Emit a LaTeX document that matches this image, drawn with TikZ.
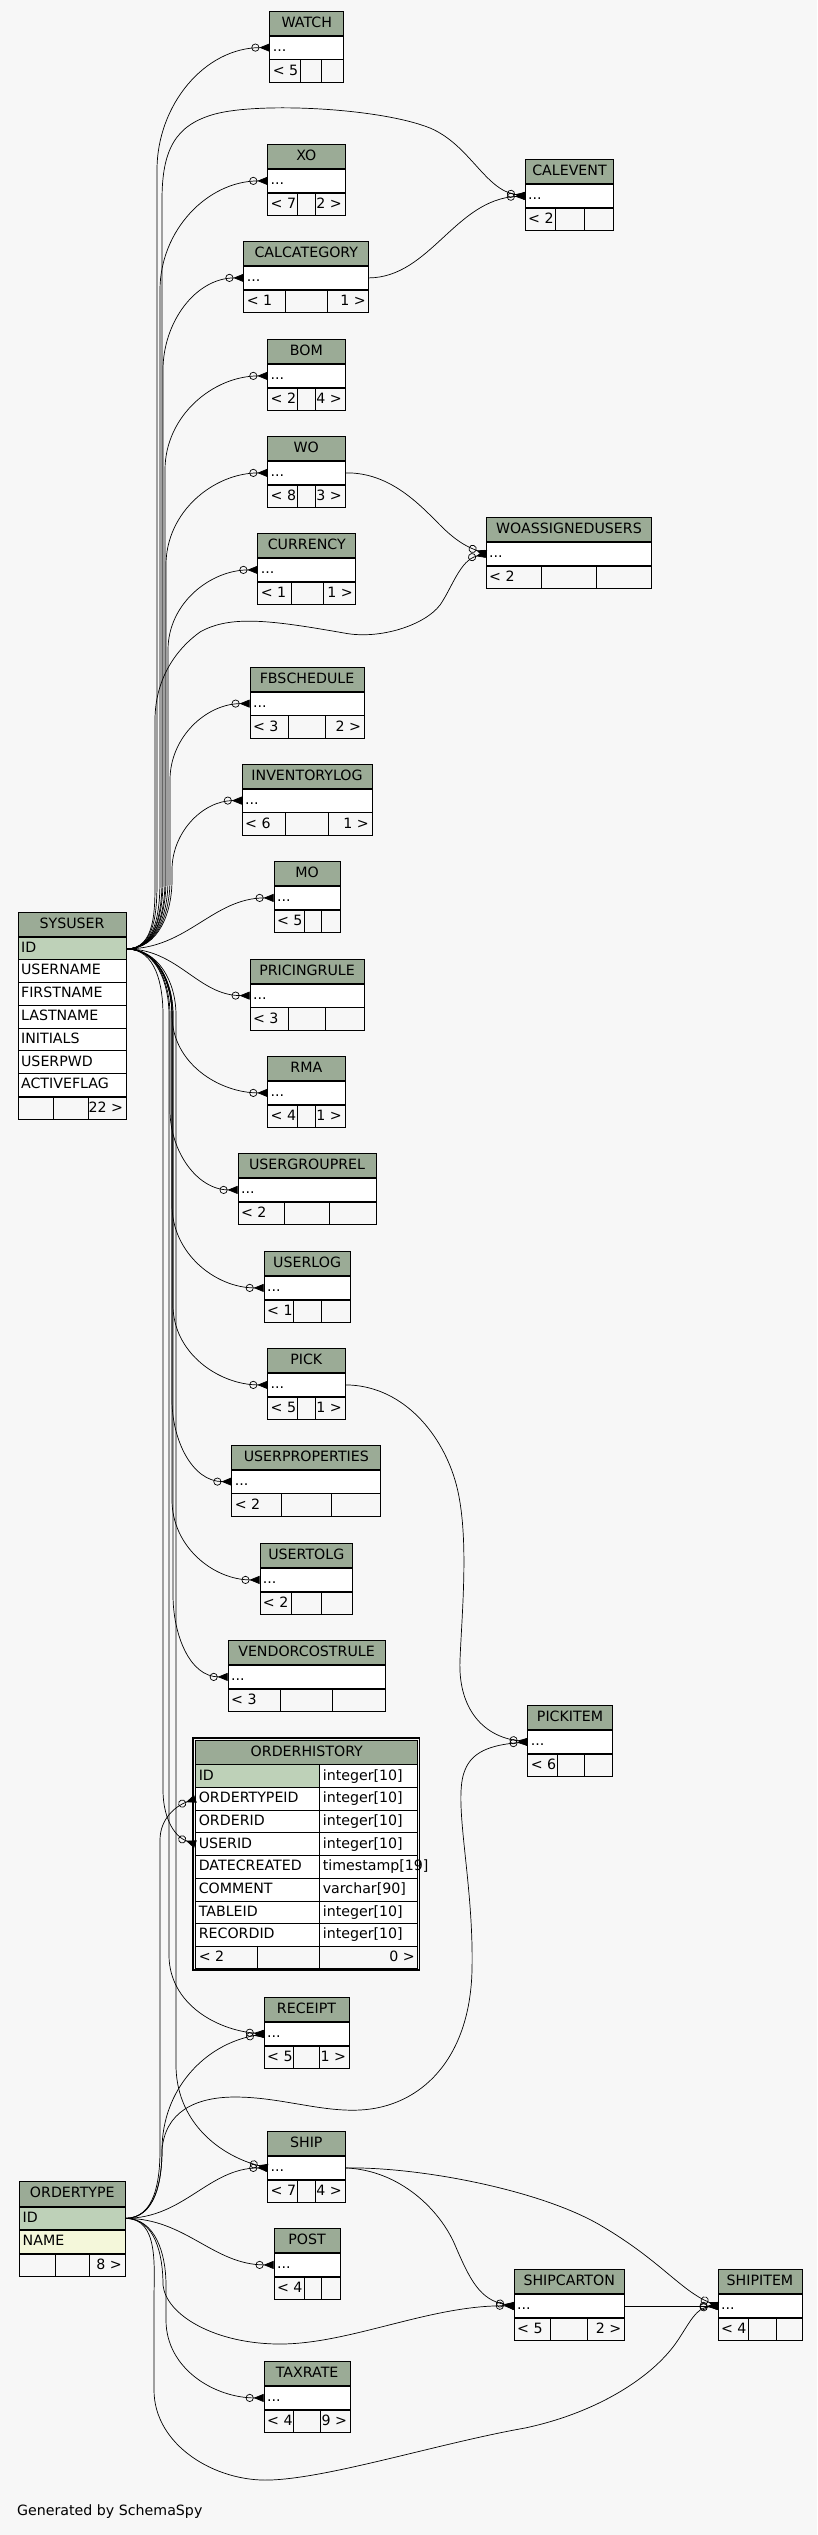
\documentclass[tikz,border=0pt]{standalone}
\usepackage{fontspec}
\setmainfont{DejaVu Sans}
\usetikzlibrary{arrows.meta}
\definecolor{bggray}{HTML}{F7F7F7}
\definecolor{headgreen}{HTML}{9BAB96}
\definecolor{keygreen}{HTML}{BED1B8}
\definecolor{idxyellow}{HTML}{F4F7DA}
\tikzset{
  tblhead/.style = {draw, fill=headgreen, inner sep=0pt, minimum height=24pt,
    text height=10.5pt, text depth=2.5pt, anchor=north west},
  tblcell/.style = {draw, fill=white, inner sep=0pt, minimum height=22.8pt,
    anchor=north west},
  tblfoot/.style = {draw, fill=bggray, inner sep=0pt, minimum height=22.5pt,
    anchor=north west},
  celltext/.style = {anchor=west, inner sep=3pt, text height=10.5pt,
    text depth=2.5pt},
  fk/.style = {line width=0.7pt,
    -{Circle[open,length=8pt,width=8pt] Triangle[reversed,length=10pt,width=8pt]}}% zero or many
}

% collapsed table: name, title, x, top, width, divider, divider, parents, children
\newcommand{\smalltable}[9]{%
  \node[tblhead, minimum width=#5pt] (#1-h) at (#3,-#4) {#2};
  \node[tblcell, minimum width=#5pt] (#1) at (#1-h.south west) {};
  \node[celltext] at (#1.west) {...};
  \node[tblfoot, minimum width=#5pt] (#1-f) at (#1.south west) {};
  \draw (#6,0 |- #1-f.north) -- (#6,0 |- #1-f.south);
  \draw (#7,0 |- #1-f.north) -- (#7,0 |- #1-f.south);
  \node[celltext] at (#1-f.west) {#8};
  \node[celltext, anchor=east] at (#1-f.east) {#9};
}

\begin{document}
\begin{tikzpicture}[x=1pt, y=1pt, line width=0.8pt,
    font=\fontsize{14.2pt}{17pt}\selectfont]
  \fill[bggray] (0,0) rectangle (817,-2535);
  \useasboundingbox (0,0) rectangle (817,-2535);

  % SYSUSER
  \node[tblhead, minimum width=108pt] (sysuser-h) at (17.7,-912.3) {SYSUSER};
  \node[tblcell, fill=keygreen, minimum width=108pt] (sysuser-id) at (sysuser-h.south west) {};
  \node[celltext] at (sysuser-id.west) {ID};
  \foreach \c [count=\i] in {USERNAME,FIRSTNAME,LASTNAME,INITIALS,USERPWD,ACTIVEFLAG} {
    \node[tblcell, minimum width=108pt] (sysuser-\i) at (17.7,{-936.3-22.8*\i}) {};
    \node[celltext] at (sysuser-\i.west) {\c};
  }
  \node[tblfoot, minimum width=108pt] (sysuser-f) at (sysuser-6.south west) {};
  \draw (53.2,0 |- sysuser-f.north) -- (53.2,0 |- sysuser-f.south);
  \draw (88.6,0 |- sysuser-f.north) -- (88.6,0 |- sysuser-f.south);
  \node[celltext, anchor=east] at (sysuser-f.east) {22 >};

  % ORDERTYPE
  \node[tblhead, minimum width=105.2pt, minimum height=24.7pt] (ordertype-h) at (19.3,-2181) {ORDERTYPE};
  \node[tblcell, fill=keygreen, minimum width=105.2pt] (ordertype-id) at (ordertype-h.south west) {};
  \node[celltext] at (ordertype-id.west) {ID};
  \node[tblcell, fill=idxyellow, minimum width=105.2pt] (ordertype-name) at (ordertype-id.south west) {};
  \node[celltext] at (ordertype-name.west) {NAME};
  \node[tblfoot, minimum width=105.2pt] (ordertype-f) at (ordertype-name.south west) {};
  \draw (55.2,0 |- ordertype-f.north) -- (55.2,0 |- ordertype-f.south);
  \draw (89.6,0 |- ordertype-f.north) -- (89.6,0 |- ordertype-f.south);
  \node[celltext, anchor=east] at (ordertype-f.east) {8 >};

  % ORDERHISTORY (focus table)
  \node[tblhead, minimum width=222pt, minimum height=24.3pt] (ohist-h) at (195.4,-1740) {ORDERHISTORY};
  \foreach \c/\f/\t [count=\i from 0] in {ID/keygreen/integer[10], ORDERTYPEID/white/integer[10],
      ORDERID/white/integer[10], USERID/white/integer[10], DATECREATED/white/timestamp[19],
      COMMENT/white/varchar[90], TABLEID/white/integer[10], RECORDID/white/integer[10]} {
    \node[tblcell, fill=\f, minimum width=124pt, minimum height=22.7pt] (ohist-\i) at (195.4,{-1764.3-22.7*\i}) {};
    \node[celltext] at (ohist-\i.west) {\c};
    \node[tblcell, minimum width=98pt, minimum height=22.7pt] (ohist-\i t) at (319.4,{-1764.3-22.7*\i}) {};
    \node[celltext] at (ohist-\i t.west) {\t};
  }
  \node[tblfoot, minimum width=222pt] (ohist-f) at (195.4,{-1764.3-22.7*8}) {};
  \draw (257.4,0 |- ohist-f.north) -- (257.4,0 |- ohist-f.south);
  \draw (319.4,0 |- ohist-f.north) -- (319.4,0 |- ohist-f.south);
  \node[celltext] at (ohist-f.west) {< 2};
  \node[celltext, anchor=east] at (ohist-f.east) {0 >};
  \draw[line width=1.6pt] (193.1,-1737.8) rectangle (419.4,-1970.2);

  % collapsed tables
  \smalltable{watch}{WATCH}{269.4}{11}{74}{300.7}{321.5}{< 5}{}
  \smalltable{xo}{XO}{267.3}{144.3}{77.2}{297.6}{315.3}{< 7}{2 >}
  \smalltable{calevent}{CALEVENT}{524.8}{159.3}{88.6}{555.5}{584.7}{< 2}{}
  \smalltable{calcategory}{CALCATEGORY}{243.4}{241.3}{125}{285.6}{327.8}{< 1}{1 >}
  \smalltable{bom}{BOM}{267.3}{339.3}{77.2}{297.6}{315.3}{< 2}{4 >}
  \smalltable{wo}{WO}{267.3}{436.3}{77.2}{297.6}{315.3}{< 8}{3 >}
  \smalltable{woassignedusers}{WOASSIGNEDUSERS}{485.7}{517.3}{165.7}{541.4}{596.7}{< 2}{}
  \smalltable{currency}{CURRENCY}{257.4}{533.3}{98}{291.3}{323.6}{< 1}{1 >}
  \smalltable{fbschedule}{FBSCHEDULE}{249.6}{667}{114.1}{288.7}{325.7}{< 3}{2 >}
  \smalltable{inventorylog}{INVENTORYLOG}{241.8}{764}{129.7}{285.6}{328.8}{< 6}{1 >}
  \smalltable{mo}{MO}{273.6}{861.3}{66.2}{304.3}{321.5}{< 5}{}
  \smalltable{pricingrule}{PRICINGRULE}{249.6}{959}{114.1}{288.7}{325.7}{< 3}{}
  \smalltable{rma}{RMA}{267.3}{1056.3}{77.2}{297.6}{315.3}{< 4}{1 >}
  \smalltable{usergrouprel}{USERGROUPREL}{237.6}{1153.3}{138.1}{284.5}{329.3}{< 2}{}
  \smalltable{userlog}{USERLOG}{263.7}{1251.3}{86}{293.4}{321.5}{< 1}{}
  \smalltable{pick}{PICK}{267.3}{1348.3}{77.2}{297.6}{315.3}{< 5}{1 >}
  \smalltable{userproperties}{USERPROPERTIES}{231.4}{1445}{149}{281.4}{331.4}{< 2}{}
  \smalltable{usertolg}{USERTOLG}{259.5}{1543.3}{92.8}{291.3}{321.5}{< 2}{}
  \smalltable{vendorcostrule}{VENDORCOSTRULE}{227.7}{1640.3}{156.9}{280.4}{332.5}{< 3}{}
  \smalltable{pickitem}{PICKITEM}{527.4}{1705.3}{84.4}{557.6}{584.7}{< 6}{}
  \smalltable{receipt}{RECEIPT}{263.7}{1997.3}{84.9}{293.4}{319.4}{< 5}{1 >}
  \smalltable{ship}{SHIP}{267.3}{2131.3}{77.2}{297.6}{315.3}{< 7}{4 >}
  \smalltable{post}{POST}{273.6}{2228.3}{66.2}{304.3}{321.5}{< 4}{}
  \smalltable{shipcarton}{SHIPCARTON}{513.8}{2269.3}{110}{550.8}{587.8}{< 5}{2 >}
  \smalltable{shipitem}{SHIPITEM}{717.6}{2269.3}{83.9}{748.8}{775.9}{< 4}{}
  \smalltable{taxrate}{TAXRATE}{263.7}{2361.3}{86}{293.4}{320.5}{< 4}{9 >}

  % SYSUSER.ID -> children above
  \foreach \dst/\cx/\py in {watch/157/170, xo/160/290, calcategory/163/370, bom/165/470,
      wo/166/565, currency/168/650, fbschedule/170/780, inventorylog/172/870}
    \draw[fk] (sysuser-id.east) to[out=0,in=-90] (\cx,-880) -- (\cx,-\py)
      to[out=90,in=180] (\dst.west);
  % SYSUSER.ID -> children below
  \foreach \dst/\cx/\py in {rma/172/1015, usergrouprel/170/1110, userlog/172/1205,
      pick/173/1305, userproperties/172/1400, usertolg/172/1500, vendorcostrule/173/1595}
    \draw[fk] (sysuser-id.east) to[out=0,in=90] (\cx,-1015) -- (\cx,-\py)
      to[out=-90,in=180] (\dst.west);
  \draw[fk] (sysuser-id.east) to[out=0,in=180] (mo.west);
  \draw[fk] (sysuser-id.east) to[out=0,in=180] (pricingrule.west);
  \draw[fk] (sysuser-id.east) to[out=0,in=90] (163,-1015) -- (163,-1790)
    to[out=-90,in=160] (ohist-3.west);
  \draw[fk] (sysuser-id.east) to[out=0,in=90] (169,-1015) -- (169,-1955)
    to[out=-90,in=175] (receipt.west);
  \draw[fk] (sysuser-id.east) to[out=0,in=90] (176,-1015) -- (176,-2065)
    to[out=-90,in=165] (ship.west);
  \draw[fk] (sysuser-id.east) to[out=0,in=-90] (162,-880) -- (162,-200)
    .. controls (162,-150) and (175,-125) .. (215,-114)
    .. controls (260,-102) and (380,-108) .. (430,-128)
    .. controls (470,-145) and (485,-190) .. (calevent.west);
  \draw[fk] (sysuser-id.east) to[out=0,in=-90] (155,-880) -- (155,-720)
    .. controls (155,-680) and (175,-650) .. (200,-632)
    .. controls (230,-615) and (270,-620) .. (344,-633)
    .. controls (380,-640) and (425,-625) .. (440,-605)
    .. controls (452,-588) and (460,-560) .. (woassignedusers.west);

  % ORDERTYPE.ID -> children
  \draw[fk] (ordertype-id.east) to[out=0,in=-90] (160,-2150) -- (160,-1840)
    to[out=90,in=200] (ohist-1.west);
  \draw[fk] (ordertype-id.east) to[out=0,in=-90] (162,-2150)
    to[out=90,in=190] (receipt.west);
  \draw[fk] (ordertype-id.east) to[out=0,in=180] (ship.west);
  \draw[fk] (ordertype-id.east) to[out=0,in=180] (post.west);
  \draw[fk] (ordertype-id.east) to[out=0,in=90] (166,-2285) -- (166,-2320)
    to[out=-90,in=180] (taxrate.west);
  \draw[fk] (ordertype-id.east) to[out=0,in=90] (163,-2285)
    .. controls (166,-2315) and (215,-2344) .. (280,-2344)
    .. controls (350,-2344) and (430,-2305) .. (shipcarton.west);
  \draw[fk] (ordertype-id.east) to[out=0,in=90] (154,-2300) -- (154,-2390)
    .. controls (154,-2445) and (215,-2482) .. (270,-2480)
    .. controls (330,-2478) and (440,-2443) .. (525,-2428)
    .. controls (600,-2412) and (655,-2375) .. (678,-2340)
    .. controls (690,-2322) and (696,-2308) .. (shipitem.west);
  \draw[fk] (ordertype-id.east) to[out=0,in=-90] (162,-2150)
    .. controls (165,-2112) and (195,-2097) .. (235,-2097)
    .. controls (280,-2097) and (320,-2112) .. (360,-2110)
    .. controls (420,-2107) and (470,-2060) .. (472,-1970)
    .. controls (474,-1880) and (452,-1800) .. (465,-1770)
    .. controls (472,-1752) and (490,-1745) .. (pickitem.west);

  % other relations
  \draw[fk] (calcategory.east) .. controls (430,-277) and (455,-200) .. (calevent.west);
  \draw[fk] (wo.east) .. controls (390,-472) and (420,-505) .. (440,-525)
    .. controls (455,-540) and (465,-546) .. (woassignedusers.west);
  \draw[fk] (pick.east) .. controls (400,-1385) and (440,-1430) .. (455,-1480)
    .. controls (470,-1530) and (462,-1610) .. (460,-1660)
    .. controls (458,-1705) and (480,-1736) .. (pickitem.west);
  \draw[fk] (ship.east) .. controls (400,-2170) and (440,-2210) .. (455,-2245)
    .. controls (470,-2280) and (480,-2300) .. (shipcarton.west);
  \draw[fk] (ship.east) .. controls (420,-2166.7) and (540,-2190) .. (600,-2225)
    .. controls (660,-2260) and (680,-2290) .. (shipitem.west);
  \draw[fk] (shipcarton.east) -- (shipitem.west);

  \node[anchor=west, inner sep=0pt] (credit) at (16.7,-2512) {Generated by SchemaSpy};
\end{tikzpicture}
\end{document}
